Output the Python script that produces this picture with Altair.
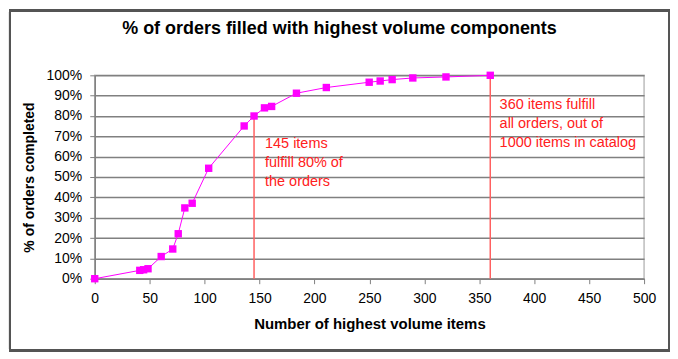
import altair as alt
import pandas as pd

# data
items = [0, 41, 44.5, 48.5, 60.5, 71, 76, 82, 88.7, 103.7, 136, 145, 154.5, 161,
         183.6, 210.8, 249.8, 259.8, 270.7, 289.5, 319.7, 360]
pct = [0, 4.1, 4.4, 4.9, 10.9, 14.6, 22.1, 34.8, 37.1, 54.3, 75.1, 80, 84, 84.7,
       91.2, 94, 96.6, 97.2, 97.9, 98.7, 99.2, 100]

marker_x = [145, 360]
marker_y = [80, 100]

note_x = [155, 368.5]
note_y = [69.5, 89]
note_text = ["145 items\nfulfill 80% of\nthe orders",
             "360 items fulfill\nall orders, out of\n1000 items in catalog"]

x_ticks = list(range(0, 501, 50))
y_ticks = list(range(0, 101, 10))

FONT = "Liberation Sans"

df = pd.DataFrame({"items": items, "pct": pct})
rules = pd.DataFrame({"items": marker_x, "pct": marker_y, "y0": [0, 0]})
notes = pd.DataFrame({"items": note_x, "pct": note_y, "t": note_text})

xs = alt.Scale(domain=[0, 500], nice=False)
ys = alt.Scale(domain=[0, 100], nice=False)

x_axis = alt.Axis(values=x_ticks, title="Number of highest volume items",
                  grid=False, tickSize=5, labelPadding=8, domainColor="#808080",
                  domainWidth=1.5, tickColor="#808080", labelFontSize=14,
                  titleFontSize=15, titleFontWeight="bold", titlePadding=11,
                  labelOverlap=False, labelFlush=False, labelFont=FONT,
                  titleFont=FONT, labelColor="#000", titleColor="#000")
y_axis = alt.Axis(values=y_ticks, title="% of orders completed",
                  labelExpr="datum.value + '%'", grid=True, gridColor="#808080",
                  gridWidth=1.5, tickSize=5, labelPadding=8, domainColor="#808080",
                  domainWidth=1.5, tickColor="#808080", labelFontSize=14,
                  titleFontSize=14, titleFontWeight="bold", titlePadding=10,
                  labelOverlap=False, labelFlush=False, labelFont=FONT,
                  titleFont=FONT, labelColor="#000", titleColor="#000")

X = alt.X("items:Q", scale=xs, axis=x_axis)
Y = alt.Y("pct:Q", scale=ys, axis=y_axis)

base = alt.Chart(df)
line = base.mark_line(color="#ff00ff", strokeWidth=1).encode(x=X, y=Y)
pts = base.mark_square(color="#ff00ff", size=55, opacity=1).encode(x=X, y=Y)

rule = alt.Chart(rules).mark_rule(color="#ff6060", strokeWidth=1.5).encode(
    x=X, y=Y, y2="y0:Q")

text = alt.Chart(notes).mark_text(align="left", baseline="top", color="#ff2020",
                                  fontSize=14.5, lineBreak="\n", lineHeight=19,
                                  font=FONT).encode(x=X, y=Y, text="t:N")

frame = alt.Chart(df).mark_rect(fill=None, stroke="#555555", strokeWidth=2).encode(
    x=alt.value(-85), x2=alt.value(576), y=alt.value(-65), y2=alt.value(276))

chart = alt.layer(line, rule, pts, text, frame).properties(
    width=551, height=204,
    title=alt.TitleParams("% of orders filled with highest volume components",
                          fontSize=18, fontWeight="bold", font=FONT, color="#000",
                          offset=0, dy=29, frame="bounds", anchor="middle"),
    autosize=alt.AutoSizeParams(type="none"),
    padding={"left": 87, "top": 67, "right": 26, "bottom": 74},
).configure_view(stroke="#bdbdbd", strokeWidth=1.5)

chart.save("out.html", embed_options={"renderer": "svg", "actions": False})
